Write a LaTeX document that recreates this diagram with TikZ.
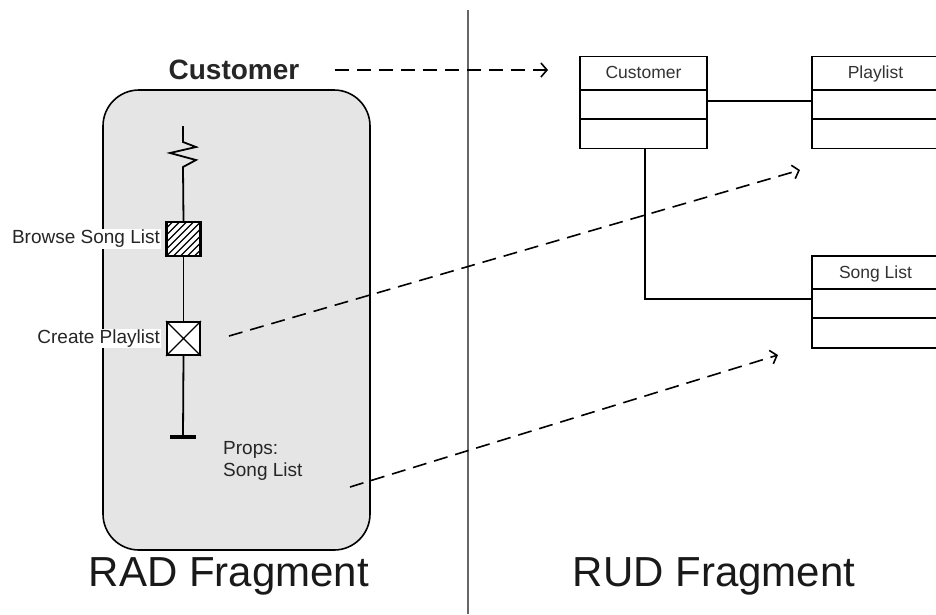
\documentclass[tikz,border=0pt]{standalone}
\usepackage{fontspec}
\setmainfont{Liberation Sans}
\usetikzlibrary{arrows.meta}
\begin{document}
\begin{tikzpicture}[x=1pt,y=-1pt,
  line/.style={line width=1.8pt,black},
  dasharrow/.style={line width=1.6pt,dash pattern=on 14pt off 8pt,-{Straight Barb[length=6pt,width=14pt,line width=1.6pt]}},
  umlbox/.style={draw,line width=1.8pt,fill=white},
  lbl/.style={font=\fontsize{19}{22}\selectfont,text=black!85,inner sep=1pt},
  big/.style={font=\fontsize{42}{46}\selectfont,text=black!90},
  act/.style={draw,line width=1.8pt,minimum width=33pt,minimum height=33pt,inner sep=0pt}]
\useasboundingbox (0,0) rectangle (936,614);
% divider
\draw[gray!80!black,line width=2.2pt] (468,10) -- (468,614);
% RAD rounded box
\node[draw,line width=1.6pt,fill=black!10,rounded corners=36pt,minimum width=267pt,minimum height=460pt,inner sep=0pt] (rad) at (236.5,320) {};
% title
\node[font=\bfseries\fontsize{28}{30}\selectfont,text=black!85] (cust) at (234,70) {Customer};
% role line
\coordinate (top) at (183,126);
\coordinate (zz) at (183,142);
\coordinate (zze) at (183,167);
\node[act,fill=white] (browse) at (183.5,239) {};
\node[act,fill=white] (create) at (183.5,338.5) {};
\coordinate (bar) at (183,437);
\draw[line] (top) -- (zz) -- (196,147) -- (170,153) -- (196,160) -- (zze) -- (browse.north);
\draw[line] (browse.south) -- (create.north);
\draw[line] (create.south) -- (bar);
\draw[line width=4pt] (170,437) -- (196,437);
% hatch
\begin{scope}
\clip (browse.south west) rectangle (browse.north east);
\foreach \k in {-42,-35,...,42} {\draw[line width=1.1pt] ([xshift=\k pt]browse.south west) -- ++(40,-40);}
\end{scope}
\draw[line,fill=none] (browse.south west) rectangle (browse.north east);
\draw[line width=1.2pt] (create.south west) -- (create.north east) (create.north west) -- (create.south east);
% labels
\node[lbl,fill=white,anchor=east] (bl) at ([xshift=-5pt]browse.west) {Browse Song List};
\node[lbl,fill=white,anchor=east] (cl) at ([xshift=-5pt]create.west) {Create Playlist};
\node[lbl,anchor=north west,align=left] (props) at (222,440) {Props:\\Song List};
% UML classes
\node[umlbox,minimum width=127pt,minimum height=92pt,inner sep=0pt] (c1) at (643.5,102.5) {};
\node[umlbox,minimum width=127pt,minimum height=92pt,inner sep=0pt] (c2) at (875.5,102.5) {};
\node[umlbox,minimum width=127pt,minimum height=92pt,inner sep=0pt] (c3) at (875.5,302) {};
\foreach \n/\t in {c1/Customer,c2/Playlist,c3/Song List} {
  \draw[line width=1.8pt] ([yshift=-34pt]\n.north west) -- ([yshift=-34pt]\n.north east);
  \draw[line width=1.8pt] ([yshift=-63pt]\n.north west) -- ([yshift=-63pt]\n.north east);
  \node[font=\fontsize{17.5}{20}\selectfont,text=black!80,anchor=base] at ([yshift=-23pt]\n.north) {\t};
}
\draw[line width=1.8pt] ([yshift=-45pt]c1.north east) -- ([yshift=-45pt]c2.north west);
\draw[line width=1.8pt] ([xshift=1.5pt]c1.south) |- ([yshift=-44pt]c3.north west);
% dashed arrows
\coordinate (a1e) at (548,70);
\coordinate (a2s) at (229,336);
\coordinate (a2e) at (800,170);
\coordinate (a3s) at (350,487);
\coordinate (a3e) at (778,355);
\draw[dasharrow] (335,70) -- (a1e);
\draw[dasharrow] (a2s) -- (a2e);
\draw[dasharrow] (a3s) -- (a3e);
% captions
\node[big] (radt) at (229,576) {RAD Fragment};
\node[big] (rudt) at (714,576) {RUD Fragment};
\end{tikzpicture}
\end{document}
